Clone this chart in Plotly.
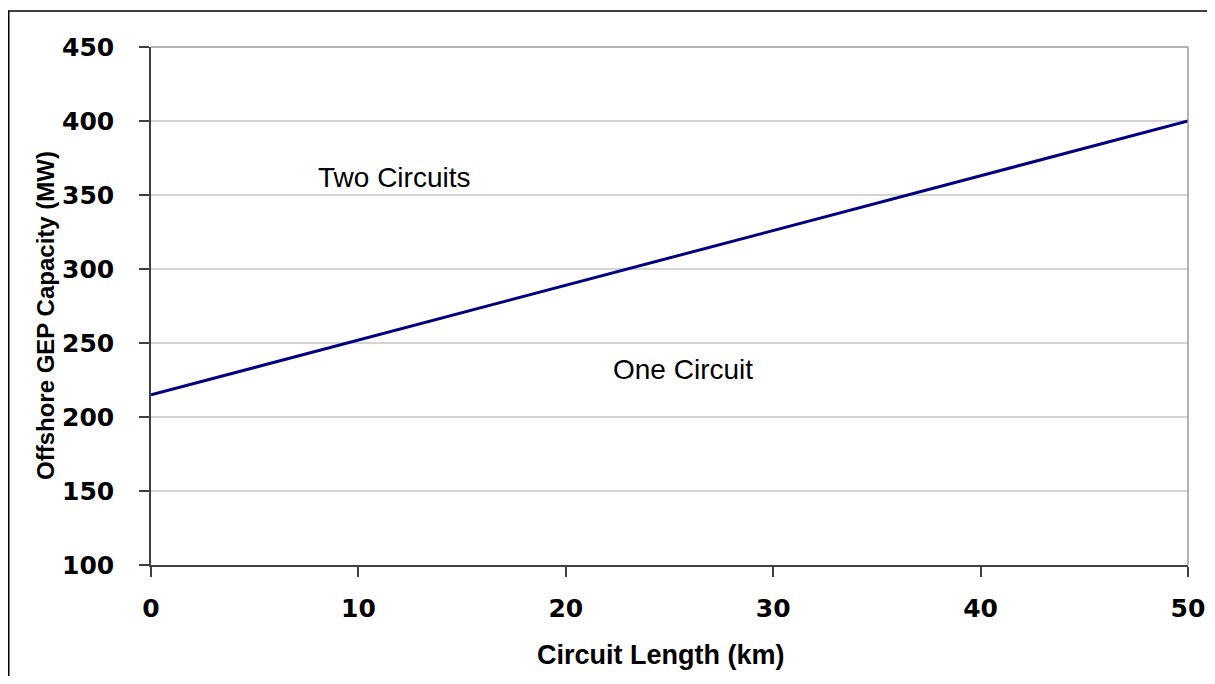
import plotly.graph_objects as go

# Data
circuit_length_km = [0, 50]
capacity_mw = [215, 400]

x_ticks = [0, 10, 20, 30, 40, 50]
y_ticks = [100, 150, 200, 250, 300, 350, 400, 450]

label_two = "Two Circuits"
label_one = "One Circuit"
label_two_pos = (11.7, 362)
label_one_pos = (25.65, 232)

# page has an 8px body margin; figure sized to fit the 1215x684 window
W, H = 1199, 668
L, R, T, B = 143, 19, 39, 111
pw, ph = W - L - R, H - T - B

def px_x(px):
    return (px - L) / pw

def px_y(py):
    return (H - B - py) / ph

fig = go.Figure()
fig.add_trace(go.Scatter(
    x=circuit_length_km, y=capacity_mw, mode="lines",
    line=dict(color="#000080", width=3), showlegend=False, hoverinfo="skip",
))

tick_font = dict(family="DejaVu Sans", size=25, color="#000000", weight="bold")

fig.update_layout(
    width=W, height=H,
    margin=dict(l=L, r=R, t=T, b=B, autoexpand=False),
    paper_bgcolor="white", plot_bgcolor="white",
    xaxis=dict(
        range=[0, 50], tickvals=x_ticks, ticks="outside", ticklen=10,
        tickcolor="#404040", tickwidth=1.5, showgrid=False, zeroline=False,
        showline=True, linecolor="#404040", linewidth=1.5,
        tickfont=tick_font, ticklabelstandoff=10,
        automargin=False,
    ),
    yaxis=dict(
        range=[100, 450], tickvals=y_ticks, ticks="outside", ticklen=10,
        tickcolor="#404040", tickwidth=1.5, showgrid=True, gridcolor="#d4d4d4",
        gridwidth=1.5, zeroline=False,
        showline=True, linecolor="#404040", linewidth=1.5,
        tickfont=tick_font, ticklabelstandoff=20,
        automargin=False,
    ),
    annotations=[
        dict(x=px_x(45 - 8), y=px_y(316 - 8), xref="paper", yref="paper",
             text="Offshore GEP Capacity (MW)", textangle=-90, showarrow=False,
             xanchor="center", yanchor="middle",
             font=dict(family="Liberation Sans", size=24, color="#000000", weight="bold")),
        dict(x=px_x(661 - 8), y=px_y(655 - 8), xref="paper", yref="paper",
             text="Circuit Length (km)", showarrow=False,
             xanchor="center", yanchor="middle",
             font=dict(family="Liberation Sans", size=27, color="#000000", weight="bold")),
        dict(x=label_two_pos[0], y=label_two_pos[1], xref="x", yref="y", text=label_two,
             showarrow=False, font=dict(family="Liberation Sans", size=28, color="#000000")),
        dict(x=label_one_pos[0], y=label_one_pos[1], xref="x", yref="y", text=label_one,
             showarrow=False, font=dict(family="Liberation Sans", size=28, color="#000000")),
    ],
    shapes=[
        # outer chart border
        dict(type="rect", xref="paper", yref="paper",
             x0=px_x(0.75), x1=px_x(1230), y0=px_y(700), y1=px_y(3),
             line=dict(color="#000000", width=1.5), fillcolor="rgba(0,0,0,0)", layer="below"),
        # plot-area top and right border
        dict(type="line", xref="paper", yref="paper", x0=0, x1=1, y0=1, y1=1,
             line=dict(color="#9a9a9a", width=1.5)),
        dict(type="line", xref="paper", yref="paper", x0=1, x1=1, y0=0, y1=1,
             line=dict(color="#9a9a9a", width=1.5)),
    ],
)

fig.write_html("out.html")
